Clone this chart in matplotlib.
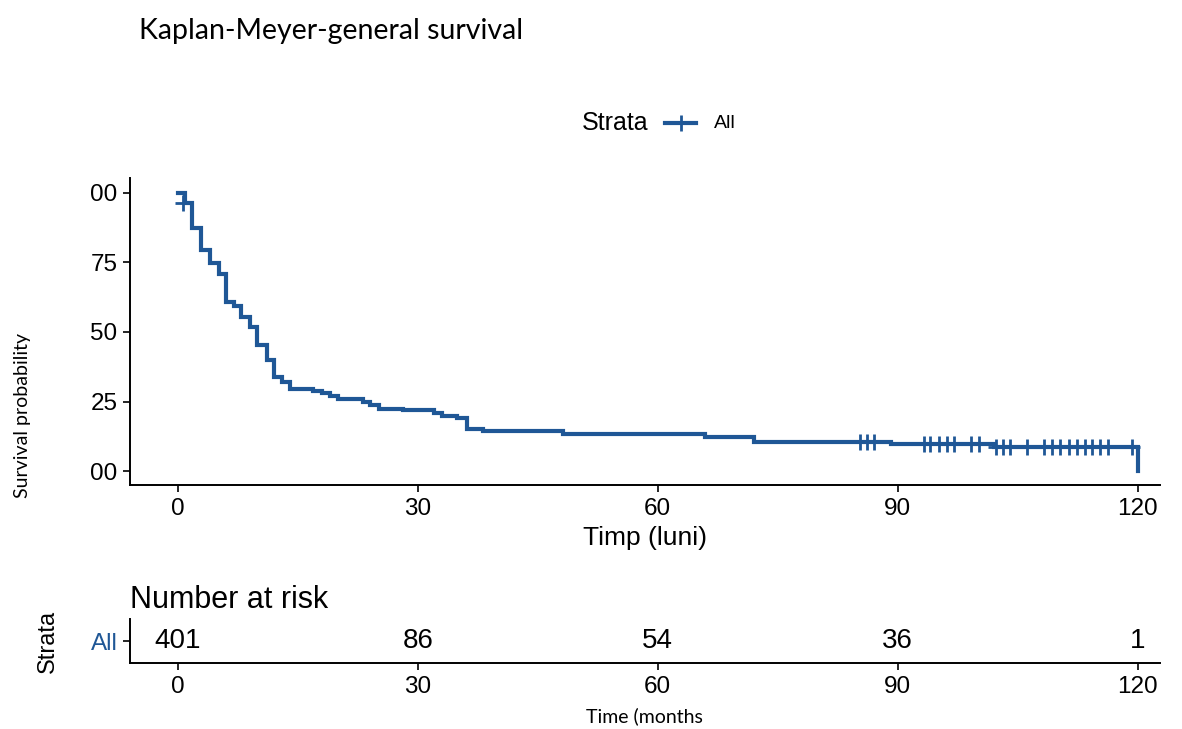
import numpy as np
import matplotlib
matplotlib.use("Agg")
import matplotlib.pyplot as plt
from matplotlib.lines import Line2D

# Kaplan-Meier steps (months, survival %)
step_times = [0, 0.9, 1.8, 2.9, 4.0, 5.1, 6.0, 7.0, 7.9, 9.0, 9.9, 11.1, 12.0,
              13.0, 14.0, 16.9, 18.0, 19.0, 20.0, 23.1, 24.0, 25.1, 28.1, 32.0,
              33.0, 34.9, 36.1, 38.1, 48.2, 65.9, 72.0, 89.2, 102.0, 120.0]
step_surv = [100, 96.2, 87.5, 79.6, 74.9, 70.8, 60.6, 59.4, 55.4, 51.9, 45.3,
             40.1, 33.9, 32.1, 29.5, 28.7, 27.9, 27.1, 26.0, 24.9, 23.7, 22.4,
             21.9, 20.7, 19.9, 19.2, 15.3, 14.5, 13.5, 12.3, 10.6, 9.7, 8.5, 0.0]

censor_times = [0.6, 85.3, 86.2, 87.0, 93.25, 94.1, 95.2, 96.2, 97.1, 99.2, 100.2,
                102.3, 103.2, 104.1, 106.2, 108.25, 109.3, 110.3, 111.4, 112.4,
                113.4, 114.3, 115.3, 116.3, 119.3]
censor_surv = [96.2] + [10.6] * 3 + [9.7] * 7 + [8.5] * 14

risk_times = [0, 30, 60, 90, 120]
risk_counts = [401, 86, 54, 36, 1]

x_ticks = [0, 30, 60, 90, 120]
y_ticks = [0, 25, 50, 75, 100]
y_tick_labels = ["00", "25", "50", "75", "00"]

BLUE = "#1f5796"
SANS = "Liberation Sans"
CAL = "Lato"

fig = plt.figure(figsize=(11.82, 7.29), dpi=100)

ax = fig.add_axes([0.110, 0.3347, 0.871, 0.421])
ax.step(step_times, step_surv, where="post", color=BLUE, lw=3.0, solid_joinstyle="miter")
ax.plot(censor_times, censor_surv, ls="none", marker="+", ms=12, mew=2, color=BLUE)
ax.set_xlim(-6, 122.75)
ax.set_ylim(-5, 105.3)
ax.set_xticks(x_ticks)
ax.set_yticks(y_ticks)
ax.set_yticklabels(y_tick_labels)
for s in ["top", "right"]:
    ax.spines[s].set_visible(False)
for s in ["left", "bottom"]:
    ax.spines[s].set_linewidth(1.4)
ax.tick_params(length=5, width=1.2, labelsize=17.5, pad=4)
for lab in ax.get_xticklabels() + ax.get_yticklabels():
    lab.set_fontfamily(SANS)
ax.set_xlabel("Timp (luni)", fontsize=19, family=SANS, labelpad=5)

fig.text(0.019, 0.43, "Survival probability", rotation=90, fontsize=14,
         family=CAL, ha="center", va="center")
fig.text(0.118, 0.958, "Kaplan-Meyer-general survival", fontsize=20.5,
         family=CAL, ha="left", va="center")

# legend drawn by hand: "Strata  + All"
fig.text(0.4925, 0.831, "Strata", fontsize=18, family=SANS, ha="left", va="center")
fig.add_artist(Line2D([0.563, 0.589], [0.831, 0.831], transform=fig.transFigure,
                      color=BLUE, lw=3.0))
fig.add_artist(Line2D([0.576], [0.831], transform=fig.transFigure, color=BLUE,
                      ls="none", marker="+", ms=12, mew=2))
fig.text(0.604, 0.831, "All", fontsize=14, family=SANS, ha="left", va="center")

# risk table
rt = fig.add_axes([0.110, 0.0905, 0.871, 0.0604])
rt.set_xlim(-6, 122.75)
rt.set_ylim(0, 1)
for t, n in zip(risk_times, risk_counts):
    rt.text(t, 0.5, str(n), ha="center", va="center", fontsize=20, family=SANS)
rt.set_xticks(x_ticks)
rt.set_yticks([0.5])
rt.set_yticklabels(["All"], color=BLUE, fontsize=18, family=SANS)
for s in ["top", "right"]:
    rt.spines[s].set_visible(False)
for s in ["left", "bottom"]:
    rt.spines[s].set_linewidth(1.4)
rt.tick_params(length=5, width=1.2, labelsize=17.5, pad=4)
for lab in rt.get_xticklabels():
    lab.set_fontfamily(SANS)
rt.set_ylabel("Strata", fontsize=17, family=SANS, labelpad=23)
rt.set_title("Number at risk", loc="left", fontsize=22, family=SANS, pad=8)
rt.set_xlabel("Time (months", fontsize=14, family=CAL, labelpad=7)

fig.savefig("out.png", dpi=100)
